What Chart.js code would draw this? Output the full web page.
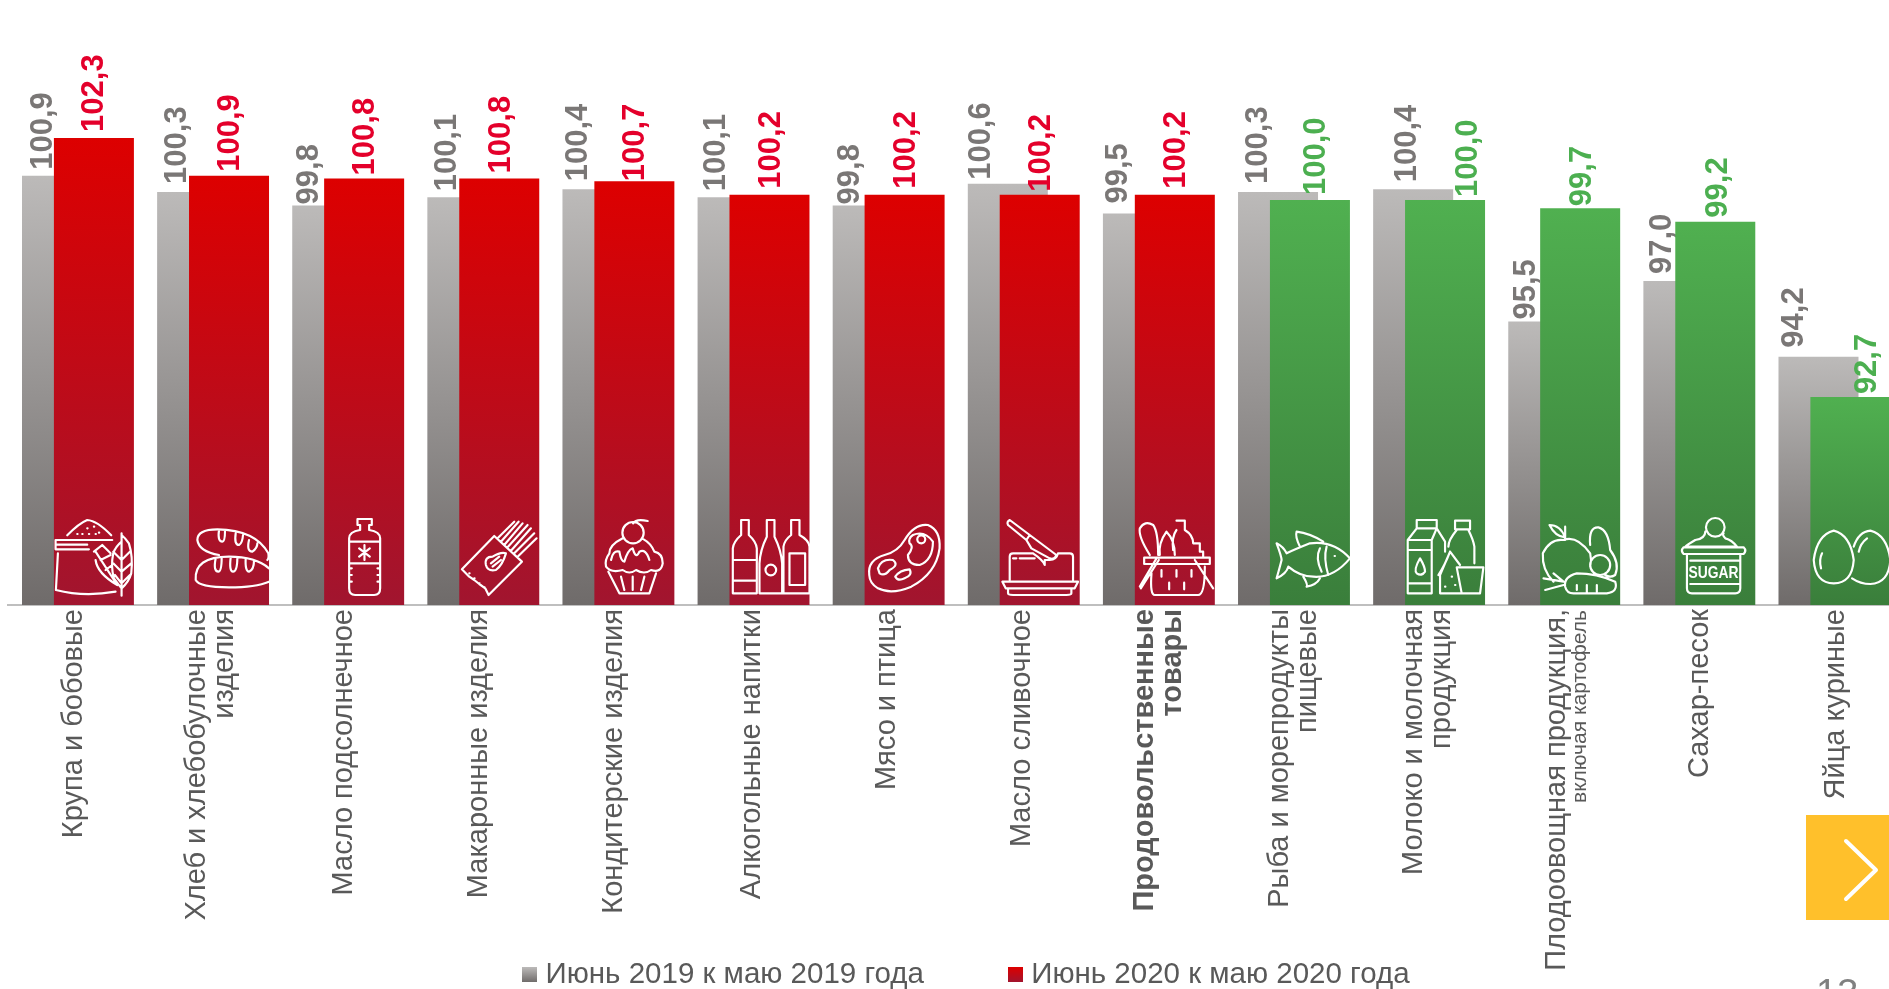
<!DOCTYPE html>
<html><head><meta charset="utf-8">
<script src="https://cdn.jsdelivr.net/npm/chart.js@4/dist/chart.umd.min.js"></script>
<style>
html,body{margin:0;padding:0;background:#fff;width:1889px;height:989px;overflow:hidden;position:relative}
canvas{position:absolute;left:0;top:0}
#next{position:absolute;left:1806px;top:815px;width:83px;height:105px;background:#FFC02B}
#page{position:absolute;left:1816px;top:971px;font:38px "Liberation Sans",Arial,sans-serif;color:#808080;line-height:44px}
</style></head><body>
<canvas id="c" width="1932" height="989"></canvas>
<div id="next"><svg width="83" height="105"><path d="M40 26L70 55L40 84" fill="none" stroke="#fff" stroke-width="4" stroke-linecap="round" stroke-linejoin="round"/></svg></div>
<div id="page">13</div>
<script>
const categories = ['Крупа и бобовые',['Хлеб и хлебобулочные','изделия'],'Масло подсолнечное','Макаронные изделия','Кондитерские изделия','Алкогольные напитки','Мясо и птица','Масло сливочное',['Продовольственные','товары'],['Рыба и морепродукты','пищевые'],['Молоко и молочная','продукция'],'Плодоовощная продукция,','Сахар-песок','Яйца куриные'];
const subLabels = {11:'включая картофель'};
const june2019 = [100.9,100.3,99.8,100.1,100.4,100.1,99.8,100.6,99.5,100.3,100.4,95.5,97.0,94.2];
const june2020 = [102.3,100.9,100.8,100.8,100.7,100.2,100.2,100.2,100.2,100.0,100.0,99.7,99.2,92.7];
const seriesNames = ['Июнь 2019 к маю 2019 года','Июнь 2020 к маю 2020 года'];
const greyDx = [-20,-21,-24,-21,-25,-22,-23,-27,-25,-21,-7,-23,-22,-25];
const redDx  = [0,0,0,1,0,1,1,1,1,6,22,1,2,16];
const greyGap = [6,8,1,6,8,6,1,4,10,8,7,2,7,9];
const redGap  = [6,4,3,5,0,6,6,3,6,5,3,2,4,3];
const tickDx = [0,-12,0,0,0,2,2,2,-10,-10,-11,-3,5,6];
const FONT = '"Liberation Sans",Arial,sans-serif';
const firstGreen = 9;
const axisMin = 85;

function grad(ctx,y0,y1,a,b){const g=ctx.createLinearGradient(0,y0,0,y1);g.addColorStop(0,a);g.addColorStop(1,b);return g;}
function barFill(c,a,b){
  const s=c.chart.scales.y; if(!s||!c.parsed) return a;
  return grad(c.chart.ctx,s.getPixelForValue(c.parsed.y),s.getPixelForValue(s.min),a,b);
}
function swatch(a,b){const k=document.createElement('canvas');k.width=15;k.height=15;const x=k.getContext('2d');x.fillStyle=grad(x,0,15,a,b);x.fillRect(0,0,15,15);return k;}

const icons = [
 ["M40 76Q75 40 100 30Q130 32 172 76M5 90H175M5 90V118H105M5 104H100M12 130L6 240Q90 262 185 245M85 72h1M105 72h1M125 72h1M100 55h1M120 50h1M135 68h1M70 72h1M203 257V70M203 95Q185 110 178 130Q170 170 180 205Q195 225 203 235Q225 215 232 190Q238 140 225 100Q215 85 203 75M203 150L178 125M203 150L228 125M203 185L178 160M203 185L232 160M203 220L183 195M203 220L228 195M190 225L125 125M120 125L145 105L170 130M125 150Q130 190 190 225M140 150L170 135M155 180L175 165"],
 ["M25 90Q25 58 85 58Q200 60 238 130Q240 145 235 150M25 90Q30 125 90 135M90 60Q85 95 100 95Q108 95 108 60M140 70Q135 105 150 105Q160 100 162 75M180 90Q172 125 190 125Q205 115 205 100M20 210Q15 140 120 140Q200 140 240 175M20 210Q30 232 120 232Q200 232 240 215M80 145Q72 185 88 185Q98 185 98 142M125 142Q120 185 132 185Q145 185 145 142M170 145Q168 185 180 185Q195 180 195 150"],
 ["M100 27H143V45H135V60Q168 65 168 85V235Q168 255 150 255H93Q75 255 75 235V85Q75 65 108 60V45H100ZM75 95H168M75 160H168M121 105V150M105 115L137 140M137 115L105 140M75 175h8M75 195h8M75 215h8M168 175h-8M168 195h-8M168 215h-8"],
 ["M105 78L188 155L88 255L78 235L60 222L45 210L30 200L8 178ZM115 85L165 35M125 95L178 35M135 105L190 40M145 112L205 45M155 122L215 55M165 130L225 70M175 140L232 85M80 165Q75 140 100 140Q125 125 140 130Q130 165 110 180Q85 185 80 165ZM95 160L120 140M100 170L125 150M30 190h1M45 205h1M60 220h1M75 232h1"],
 ["M148 68A32 32 0 1 1 84 68A32 32 0 1 1 148 68ZM116 40Q125 25 160 33M85 85Q45 105 45 130Q30 150 35 170Q50 190 85 180Q105 195 125 180Q150 195 170 180Q200 190 205 160Q205 130 180 125Q170 100 148 88M50 150Q55 120 75 125Q80 155 90 155Q100 120 115 115Q125 150 135 125Q155 115 165 150M42 185L75 250H165L185 190M80 200L90 240M115 200V240M150 200L140 240"],
 ["M35 30H58V75Q80 95 82 115V250H10V115Q12 95 35 75ZM10 150H82M10 212H82M112 30H135V80Q155 120 158 160V250H90V160Q92 120 112 80ZM140 180A16 16 0 1 1 108 180A16 16 0 1 1 140 180ZM185 30H210V75Q238 90 240 110V250H162V110Q165 90 185 75ZM180 130H227V225H180Z"],
 ["M14 195Q8 150 60 135Q100 125 120 90Q150 40 190 45Q228 60 225 115Q215 190 140 230Q80 255 40 235Q15 220 14 195ZM145 75Q180 60 205 95Q205 150 165 165Q130 165 130 135Q150 110 135 100Q130 85 145 75ZM182 88A12 12 0 1 1 158 88A12 12 0 1 1 182 88ZM40 175Q50 145 85 150Q105 165 75 180Q60 200 45 190ZM92 200Q105 180 135 178Q145 195 120 205Q100 215 92 200Z"],
 ["M30 30L90 75L80 90L25 45Q20 35 30 30ZM90 75L170 135Q165 150 150 145L95 115L80 90M100 130H40Q30 130 30 140V210M175 130H210Q220 130 220 140V210M100 130Q130 150 135 165V150H150Q170 150 175 130M8 215H235L225 235H18ZM25 235V250Q25 255 40 255H200Q215 255 215 250V235M40 145H50M60 145H105"],
 ["M45 135Q10 80 15 55Q30 30 55 45Q70 65 70 135M75 135Q70 100 95 65Q120 90 120 135M125 32H150V60Q175 75 175 100H195V125H205V140M125 60Q110 80 115 120M28 143H225V162H28ZM72 150L18 235M65 145L15 230M180 150L235 235M50 190Q45 255 60 255H190Q210 255 210 170M80 180V200M125 180V200M170 180V200M103 218V238M148 218V238"],
 ["M240 145Q190 90 120 100Q70 120 50 130Q40 110 20 100Q35 140 35 150Q30 170 20 205Q50 190 55 170Q90 200 130 200Q190 205 240 145ZM90 110Q75 80 80 65Q120 70 160 95M100 200Q115 225 110 230Q140 225 150 205M150 115Q135 145 155 185M170 110Q160 145 175 195M194 138h1"],
 ["M8 90H80V250H8ZM8 90L35 55H95L120 95V125M80 90L95 55M35 30H95V55H35ZM80 120H8M8 220H80M45 145Q25 180 35 190Q50 200 60 185Q60 170 45 145ZM150 32H195V58H150ZM155 60Q130 90 130 110M190 60Q205 90 208 110V160M135 125L165 165M135 125L105 195V250H170M135 125Q120 165 100 195M155 172H235L225 250H170ZM140 200h1M120 230h1M150 225h1"],
 ["M70 90Q30 85 8 130Q5 180 40 215M70 90Q110 75 150 130Q155 150 150 170M75 82Q60 45 28 45Q45 80 75 82M75 90V50M150 105Q145 50 175 52Q205 60 210 120Q240 160 225 195Q210 205 195 195M210 165A30 30 0 1 1 150 165A30 30 0 1 1 210 165ZM75 230Q70 200 110 190Q170 190 225 215Q235 245 200 250H100Q80 250 75 230ZM70 215L10 205M70 225L15 240M70 215L40 190M110 225V240M140 225V250M170 225V245"],
 ["M148 52A28 28 0 1 1 92 52A28 28 0 1 1 148 52ZM90 65Q90 85 60 90Q35 105 30 110H185Q170 90 150 85Q140 75 145 70M25 112H205Q215 122 205 132H25Q15 122 25 112ZM35 132V235Q35 250 50 250H180Q195 250 195 235V132M45 152H190M45 222H190"],
 ["M70 62Q120 75 130 150Q125 220 70 220Q15 220 10 150Q20 75 70 62ZM130 110Q145 65 180 62Q230 75 240 150M125 205Q150 222 180 222Q235 220 240 150M35 130Q25 150 32 175M170 85Q150 100 145 125"]
];

const sketch = {
  id:'sketch',
  beforeLayout(chart){
    const l=chart.legend;
    if(l&&!l._zeroFit){ l._zeroFit=true; const f=l.fit; l.fit=function(){f.call(this); this.height=0;}; }
  },
  beforeDraw(chart){
    chart.scales.x.getLabelItems().forEach((it,i)=>{
      if(!it._moved){ it._moved=true; it.options.translation[0]+=tickDx[i]; }
    });
  },
  beforeDatasetDraw(chart,args){ if(args.index===0) return false; },
  beforeDatasetsDraw(chart){
    chart.getDatasetMeta(0).controller.draw();
    const ctx=chart.ctx, s=chart.scales.y;
    ctx.save();
    ctx.font='bold 31px '+FONT; ctx.textAlign='left'; ctx.textBaseline='middle';
    const put=(v,x,gap,col)=>{
      ctx.save(); ctx.translate(x,s.getPixelForValue(v)-gap); ctx.rotate(-Math.PI/2);
      ctx.fillStyle=col; ctx.fillText(v.toFixed(1).replace('.',','),0,1); ctx.restore();
    };
    june2019.forEach((v,i)=>put(v,chart.getDatasetMeta(0).data[i].x+greyDx[i],greyGap[i],'#7A7776'));
    june2020.forEach((v,i)=>put(v,chart.getDatasetMeta(1).data[i].x+redDx[i],redGap[i],i<firstGreen?'#E4002B':'#4CAF50'));
    ctx.restore();
  },
  afterDatasetsDraw(chart){
    const ctx=chart.ctx, a=chart.chartArea, bars=chart.getDatasetMeta(1).data;
    ctx.save();
    ctx.fillStyle='#BFBFBF'; ctx.fillRect(7,a.bottom-1,a.left-6,2);
    icons.forEach((ic,i)=>{
      ctx.save(); ctx.translate(bars[i].x-40,a.bottom-95); ctx.scale(1/3,1/3);
      ctx.strokeStyle='#fff'; ctx.fillStyle='#fff'; ctx.lineWidth=6.5; ctx.lineCap='round'; ctx.lineJoin='round';
      ctx.stroke(new Path2D(ic[0]));
      if(i===12){ctx.font='bold 50px "Liberation Sans",sans-serif';ctx.textAlign='center';ctx.textBaseline='middle';ctx.fillText('SUGAR',115,190,150);}
      ctx.restore();
    });
    ctx.font='21px '+FONT; ctx.fillStyle='#595959'; ctx.textAlign='right'; ctx.textBaseline='middle';
    Object.keys(subLabels).forEach(k=>{
      ctx.save(); ctx.translate(bars[k].x,610); ctx.rotate(-Math.PI/2);
      ctx.fillText(subLabels[k],0,0); ctx.restore();
    });
    ctx.restore();
  },
  afterLayout(chart){ const l=chart.legend; if(l){ l.left=528.25-90; l.top=870; l.right=1925; l.bottom=989; } }
};

new Chart(document.getElementById('c'),{
  type:'bar',
  plugins:[sketch],
  data:{labels:categories,datasets:[
    {label:seriesNames[0],data:june2019,base:axisMin,backgroundColor:c=>barFill(c,'#BCBAB9','#6F6B6A')},
    {label:seriesNames[1],data:june2020,base:axisMin,backgroundColor:c=>c.dataIndex<firstGreen?barFill(c,'#DD0000','#A1152F'):barFill(c,'#50B050','#3A7E3B')}
  ]},
  options:{
    responsive:false,animation:false,
    categoryPercentage:0.4722,barPercentage:2.508,
    layout:{padding:{left:10.4,right:30,top:0,bottom:0}},
    scales:{
      y:{display:false,min:axisMin,max:107.41},
      x:{
        grid:{display:false,drawTicks:false},
        border:{display:true,color:'#BFBFBF',width:2},
        afterFit(s){s.height=384;},
        ticks:{autoSkip:false,maxRotation:90,minRotation:90,padding:4,labelOffset:-4,color:'#595959',
          font:c=>({family:FONT,size:29,lineHeight:0.97,weight:c.index===8?'bold':'normal'})}
      }
    },
    plugins:{
      tooltip:{enabled:false},
      legend:{position:'bottom',align:'start',
        labels:{usePointStyle:true,boxWidth:2.5,boxHeight:30,padding:90,color:'#595959',font:{family:FONT,size:29.5},
          generateLabels:()=>[
            {text:seriesNames[0],pointStyle:swatch('#BCBAB9','#6F6B6A'),datasetIndex:0,hidden:false,fontColor:'#595959',lineWidth:0,strokeStyle:'transparent'},
            {text:seriesNames[1],pointStyle:swatch('#DD0000','#A1152F'),datasetIndex:1,hidden:false,fontColor:'#595959',lineWidth:0,strokeStyle:'transparent'}
          ]}}
    }
  }
});
</script>
</body></html>
